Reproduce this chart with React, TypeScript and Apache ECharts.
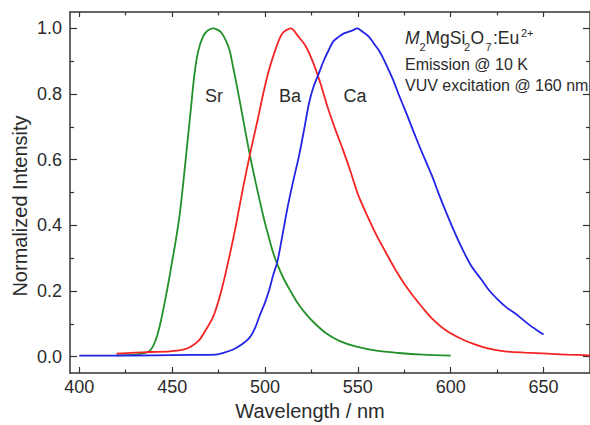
import React, { useEffect, useRef } from "react";
import * as echarts from "echarts";

// ---- data ----
const srWavelength = [420, 430, 435.4, 438, 440, 442, 444, 446, 448, 450, 452, 454, 456, 458, 460, 462, 464, 466.6, 469, 471.9, 474, 476.4, 478.5, 480.9, 483, 485.3, 487.5, 489.8, 492, 495, 498.7, 501.5, 504.1, 506.7, 510, 513, 517, 522, 527, 532.7, 540, 548.8, 560, 572, 585, 600];
const srIntensity = [0.004, 0.006, 0.011, 0.018, 0.035, 0.065, 0.11, 0.165, 0.225, 0.29, 0.355, 0.43, 0.53, 0.64, 0.75, 0.86, 0.93, 0.975, 0.993, 1.0, 0.997, 0.988, 0.968, 0.934, 0.877, 0.812, 0.745, 0.675, 0.61, 0.53, 0.437, 0.375, 0.322, 0.28, 0.238, 0.207, 0.168, 0.13, 0.1, 0.072, 0.048, 0.031, 0.018, 0.011, 0.006, 0.003];

const baWavelength = [420, 430, 438, 448.7, 455.9, 460, 464.8, 468, 472, 475, 478, 481, 484, 487, 490, 493, 496, 499, 502, 505.9, 509.4, 513.9, 518, 522, 526, 530, 534, 538, 542, 546, 550, 555, 560, 565, 570, 575, 580, 585, 590, 597, 605, 613, 620, 629, 640, 652.3, 663, 675];
const baIntensity = [0.009, 0.012, 0.014, 0.016, 0.021, 0.03, 0.052, 0.08, 0.12, 0.17, 0.235, 0.31, 0.39, 0.48, 0.565, 0.645, 0.72, 0.8, 0.87, 0.94, 0.985, 1.0, 0.975, 0.945, 0.895, 0.83, 0.755, 0.69, 0.63, 0.565, 0.495, 0.43, 0.37, 0.318, 0.267, 0.222, 0.183, 0.148, 0.116, 0.082, 0.056, 0.037, 0.025, 0.016, 0.012, 0.009, 0.006, 0.004];

const caWavelength = [400, 420, 440, 460, 473.7, 478, 482.6, 487, 491.6, 494.5, 497, 500, 502.3, 504.5, 506.7, 509.4, 512, 515, 518.4, 521, 523.7, 526, 529, 531.5, 534.4, 537, 539.8, 542.5, 545.2, 547.5, 549.6, 552.5, 555.9, 558.5, 561.2, 564, 566.6, 569.2, 571.9, 575.5, 579, 582.5, 586.2, 590, 593.4, 597.5, 602.3, 606.5, 611.2, 616.6, 621, 625.5, 630, 634.4, 639, 643.4, 647, 650];
const caIntensity = [0.003, 0.003, 0.004, 0.005, 0.006, 0.012, 0.021, 0.035, 0.057, 0.085, 0.123, 0.165, 0.204, 0.25, 0.29, 0.37, 0.45, 0.53, 0.614, 0.69, 0.772, 0.82, 0.863, 0.9, 0.935, 0.962, 0.975, 0.985, 0.99, 0.995, 1.0, 0.99, 0.975, 0.955, 0.934, 0.905, 0.873, 0.84, 0.8, 0.75, 0.7, 0.65, 0.6, 0.55, 0.498, 0.44, 0.376, 0.325, 0.275, 0.234, 0.2, 0.173, 0.15, 0.133, 0.112, 0.092, 0.078, 0.067];

const xMajorTicks = [400, 450, 500, 550, 600, 650];
const xMinorTicks = [425, 475, 525, 575, 625];
const yMajorTicks = [0, 0.2, 0.4, 0.6, 0.8, 1.0];
const yMinorTicks = [0.1, 0.3, 0.5, 0.7, 0.9];

const seriesNames = ["Sr", "Ba", "Ca"];
const seriesColors = ["#23902a", "#f52424", "#2424e6"];

const FONT = "Liberation Sans, Arial, sans-serif";
const AXIS_COLOR = "#333";
const TEXT_COLOR = "#2b2b2b";

const zip = (xs: number[], ys: number[]) => xs.map((x, i) => [x, ys[i]]);

export default function App() {
  const ref = useRef<HTMLDivElement>(null);

  useEffect(() => {
    if (!ref.current) return;
    const chart = echarts.init(ref.current, null, { renderer: "svg" });

    const xBase = (position: "bottom" | "top", ticks: number[], len: number, showLine: boolean, showLabel: boolean) => ({
      type: "value",
      position,
      min: 395,
      max: 675,
      axisLine: { show: showLine, onZero: false, lineStyle: { color: AXIS_COLOR, width: 1.5 } },
      axisTick: { show: true, inside: true, length: len, customValues: ticks, lineStyle: { color: AXIS_COLOR, width: 1.2 } },
      axisLabel: showLabel
        ? { show: true, customValues: ticks, fontSize: 18, color: TEXT_COLOR, fontFamily: FONT, margin: 5 }
        : { show: false },
      splitLine: { show: false },
    });
    const yBase = (position: "left" | "right", ticks: number[], len: number, showLine: boolean, showLabel: boolean) => ({
      type: "value",
      position,
      min: -0.05,
      max: 1.05,
      axisLine: { show: showLine, onZero: false, lineStyle: { color: AXIS_COLOR, width: 1.5 } },
      axisTick: { show: true, inside: true, length: len, customValues: ticks, lineStyle: { color: AXIS_COLOR, width: 1.2 } },
      axisLabel: showLabel
        ? { show: true, customValues: ticks, fontSize: 18, color: TEXT_COLOR, fontFamily: FONT, margin: 8, formatter: (v: number) => v.toFixed(1) }
        : { show: false },
      splitLine: { show: false },
    });

    const dataSets = [zip(srWavelength, srIntensity), zip(baWavelength, baIntensity), zip(caWavelength, caIntensity)];

    const labelPos = [
      { x: 214, y: 96 },
      { x: 290, y: 96 },
      { x: 355, y: 96 },
    ];

    const t = (text: string, x: number, y: number, fontSize: number, extra: any = {}) => ({
      type: "text",
      x,
      y,
      style: { text, fontSize, fontFamily: FONT, fill: TEXT_COLOR, verticalAlign: "bottom", ...extra },
    });
    const MAIN = 17.5;
    const SMALL = 11;
    const yMain = 46.5;
    const ySub = 52.5;
    const ySup = 38;

    chart.setOption({
      animation: false,
      backgroundColor: "#fff",
      grid: { left: 70, top: 12, width: 522, height: 361 },
      xAxis: [
        xBase("bottom", xMajorTicks, 6, true, true),
        xBase("bottom", xMinorTicks, 3.5, false, false),
        xBase("top", xMajorTicks, 5, true, false),
        xBase("top", xMinorTicks, 3.5, false, false),
      ],
      yAxis: [
        yBase("left", yMajorTicks, 7, true, true),
        yBase("left", yMinorTicks, 4, false, false),
        yBase("right", yMajorTicks, 7, true, false),
        yBase("right", yMinorTicks, 4, false, false),
      ],
      series: dataSets.map((d, i) => ({
        name: seriesNames[i],
        type: "line",
        xAxisIndex: 0,
        yAxisIndex: 0,
        data: d,
        smooth: 0.3,
        showSymbol: false,
        symbol: "none",
        lineStyle: { color: seriesColors[i], width: 1.8 },
        itemStyle: { color: seriesColors[i] },
      })),
      graphic: [
        ...seriesNames.map((n, i) => ({
          type: "text",
          x: labelPos[i].x,
          y: labelPos[i].y,
          style: { text: n, fontSize: 18, fontFamily: FONT, fill: TEXT_COLOR, align: "center", verticalAlign: "middle" },
        })),
        // M2MgSi2O7:Eu2+
        t("M", 405, yMain, MAIN, { fontStyle: "italic" }),
        t("2", 419.5, ySub, SMALL),
        t("MgSi", 425.5, yMain, MAIN),
        t("2", 464, ySub, SMALL),
        t("O", 470.5, yMain, MAIN),
        t("7", 485.5, ySub, SMALL),
        t(":Eu", 493, yMain, MAIN),
        t("2+", 521, ySup, SMALL),
        { type: "text", x: 405, y: 64, style: { text: "Emission @ 10 K", fontSize: 16, fontFamily: FONT, fill: TEXT_COLOR, verticalAlign: "middle" } },
        { type: "text", x: 405, y: 85, style: { text: "VUV excitation @ 160 nm", fontSize: 16, fontFamily: FONT, fill: TEXT_COLOR, verticalAlign: "middle" } },
        // axis titles
        { type: "text", x: 310, y: 411, style: { text: "Wavelength / nm", fontSize: 20, fontFamily: FONT, fill: TEXT_COLOR, align: "center", verticalAlign: "middle" } },
        { type: "text", x: 20, y: 206, rotation: Math.PI / 2, style: { text: "Normalized Intensity", fontSize: 20, fontFamily: FONT, fill: TEXT_COLOR, align: "center", verticalAlign: "middle" } },
      ],
    });

    return () => chart.dispose();
  }, []);

  return <div ref={ref} style={{ position: "fixed", left: 0, top: 0, width: 590, height: 425 }} />;
}
